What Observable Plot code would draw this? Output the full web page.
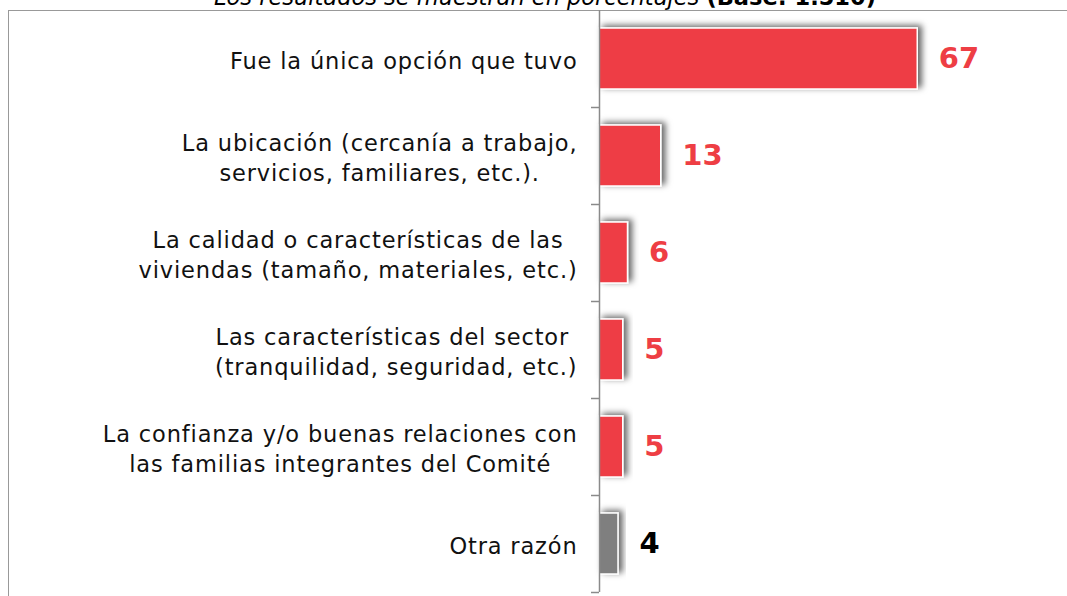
<!DOCTYPE html>
<html>
<head>
<meta charset="utf-8">
<script src="https://cdn.jsdelivr.net/npm/d3@7"></script>
<script src="https://cdn.jsdelivr.net/npm/@observablehq/plot@0.6"></script>
<style>
  html, body { margin: 0; padding: 0; background: #fff; overflow: hidden; }
  body { width: 1067px; height: 596px; position: relative; font-family: "DejaVu Sans", Verdana, sans-serif; }
  #subtitle { position: absolute; left: 0; width: 1090px; top: -14px; text-align: center; font-size: 22.5px; line-height: 22px; font-style: italic; color: #000; white-space: nowrap; }
  #subtitle b { font-style: normal; }
  #frame { position: absolute; left: 8px; top: 10px; width: 1200px; height: 800px; border: 1.5px solid #999; }
  #chart { position: absolute; left: 0; top: 0; }
</style>
</head>
<body>
<div id="subtitle">Los resultados se muestran en porcentajes <b>(Base: 1.510)</b></div>
<div id="frame"></div>
<div id="chart"></div>
<script>
const categories = [
  "Fue la única opción que tuvo",
  "La ubicación (cercanía a trabajo,\nservicios, familiares, etc.).",
  "La calidad o características de las\nviviendas (tamaño, materiales, etc.)",
  "Las características del sector \n(tranquilidad, seguridad, etc.)",
  "La confianza y/o buenas relaciones con\nlas familias integrantes del Comité",
  "Otra razón"
];
const values = [67, 13, 6, 5, 5, 4];
const groups = ["main", "main", "main", "main", "main", "other"];

const data = categories.map((c, i) => ({category: c, value: values[i], group: groups[i]}));

const W = 1067, H = 596, mTop = 10, mBottom = 4;
const step = (H - mTop - mBottom) / categories.length;

const plot = Plot.plot({
  width: W,
  height: H,
  marginLeft: 599,
  marginRight: 88,
  marginTop: mTop,
  marginBottom: mBottom,
  style: {fontFamily: "'DejaVu Sans', Verdana, sans-serif", background: "transparent", overflow: "visible"},
  x: {domain: [0, 80], axis: null},
  y: {domain: categories, padding: 0, axis: null},
  color: {domain: ["main", "other"], range: ["#EE3E44", "#7F7F7F"]},
  marks: [
    Plot.barX(data, {x: "value", y: "category", fill: "group", stroke: "white", strokeWidth: 1.5, insetTop: 18, insetBottom: 18}),
    Plot.ruleX([0], {stroke: "#8a8a8a", strokeWidth: 1.5}),
    Plot.axisY({tickSize: 8, tickFormat: () => "", label: null, stroke: "#8a8a8a", strokeWidth: 1.5, dy: step / 2}),
    Plot.text(data, {x: 0, y: "category", text: "category", textAnchor: "middle", dx: -22, fontSize: 22.5, lineHeight: 1.33, fill: "#111"}),
    Plot.text(data, {x: "value", y: "category", text: d => String(d.value), textAnchor: "start", dx: 21, fontSize: 29, fontWeight: "bold", fill: d => d.group === "main" ? "#EE3E44" : "#000"})
  ]
});

document.getElementById("chart").appendChild(plot);

// drop shadow on bars
const svg = d3.select(plot);
const defs = svg.insert("defs", ":first-child");
const f = defs.append("filter").attr("id", "shadow").attr("x", "-30%").attr("y", "-40%").attr("width", "170%").attr("height", "180%");
f.append("feDropShadow").attr("dx", 4).attr("dy", -2).attr("stdDeviation", 3).attr("flood-color", "#000").attr("flood-opacity", 0.6);
svg.selectAll("g[aria-label=bar] rect").attr("filter", "url(#shadow)");

// right-align each centered label block
const labelGroup = svg.selectAll("g[aria-label=text]").filter((d, i) => i === 0);
labelGroup.style("letter-spacing", "0.85px");
labelGroup.selectAll("text").each(function() {
  const w = this.getBBox().width;
  const t = this.getAttribute("transform") || "";
  this.setAttribute("transform", `translate(${-w / 2},0) ` + t);
});
</script>
</body>
</html>
